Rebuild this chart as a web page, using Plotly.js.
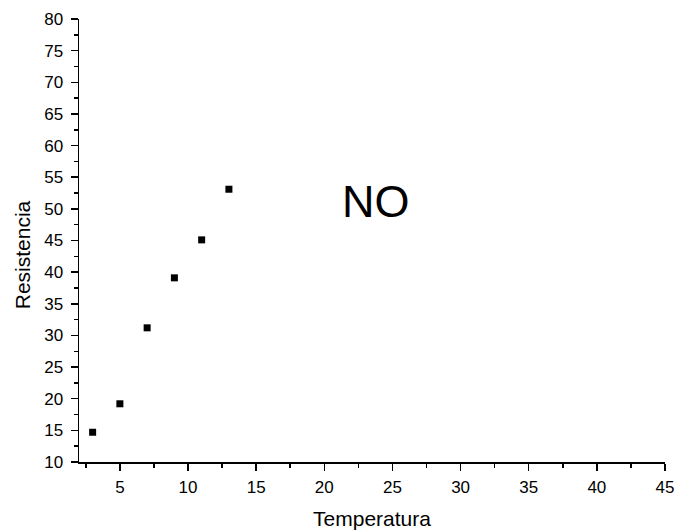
<!DOCTYPE html>
<html>
<head>
<meta charset="utf-8">
<script src="https://cdn.plot.ly/plotly-3.0.1.min.js"></script>
<style>html,body{margin:0;padding:0;background:#fff;}#chart{width:680px;height:532px;}</style>
</head>
<body>
<div id="chart"></div>
<script>
const temperatura = [3, 5, 7, 9, 11, 13];
const resistencia = [14.7, 19.2, 31.2, 39.1, 45.1, 53.1];
const xTicks = [5, 10, 15, 20, 25, 30, 35, 40, 45];
const yTicks = [10, 15, 20, 25, 30, 35, 40, 45, 50, 55, 60, 65, 70, 75, 80];
const annotationText = "NO";
const xTitle = "Temperatura";
const yTitle = "Resistencia";

const FONT = '"Liberation Sans", Arial, sans-serif';

const axisCommon = {
  showgrid: false,
  zeroline: false,
  showline: true,
  linecolor: '#000',
  linewidth: 1.5,
  ticks: 'outside',
  ticklen: 7,
  tickwidth: 1.5,
  tickcolor: '#000',
  tickfont: {family: FONT, size: 17, color: '#000'},
  minor: {ticks: 'outside', ticklen: 4, tickwidth: 1.5, tickcolor: '#000', dtick: 2.5, showgrid: false}
};

const layout = {
  width: 680, height: 532,
  margin: {l: 79, r: 15, t: 19, b: 70},
  paper_bgcolor: '#fff', plot_bgcolor: '#fff',
  showlegend: false,
  xaxis: Object.assign({}, axisCommon, {
    range: [2, 45],
    tickmode: 'array', tickvals: xTicks, ticktext: xTicks.map(String),
    ticklabelstandoff: 2,
    title: {text: xTitle, font: {family: FONT, size: 21, color: '#000'}, standoff: 15}
  }),
  yaxis: Object.assign({}, axisCommon, {
    range: [10, 80],
    tickmode: 'array', tickvals: yTicks, ticktext: yTicks.map(String),
    ticklabelstandoff: 4
  }),
  annotations: [{
    text: annotationText, xref: 'x', yref: 'y', x: 23.8, y: 51.2,
    showarrow: false, font: {family: FONT, size: 45, color: '#000'}
  }, {
    text: yTitle, xref: 'paper', yref: 'paper', x: -0.097, y: 0.467,
    xanchor: 'center', yanchor: 'middle', textangle: -90,
    showarrow: false, font: {family: FONT, size: 21, color: '#000'}
  }]
};

const data = [{
  x: temperatura, y: resistencia, type: 'scatter', mode: 'markers',
  marker: {symbol: 'square', size: 7, color: '#000'}
}];

Plotly.newPlot('chart', data, layout, {displayModeBar: false, staticPlot: true});
</script>
</body>
</html>
